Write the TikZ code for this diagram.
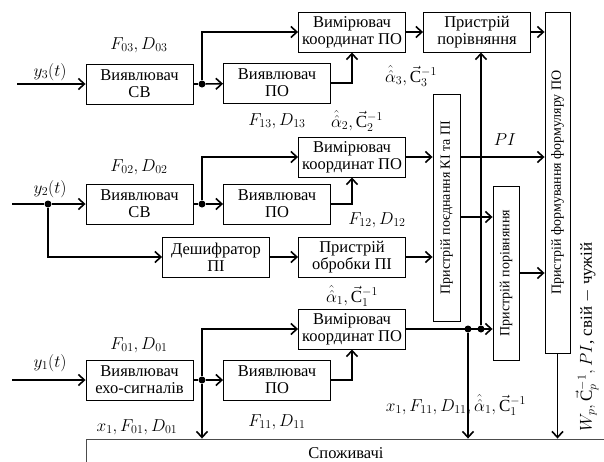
\documentclass[tikz,border=0pt]{standalone}
\usepackage{graphicx}
\usepackage{fontspec}
\setmainfont{Liberation Serif}
\usetikzlibrary{arrows.meta}
\begin{document}
\begin{tikzpicture}[x=1pt,y=-1pt,
  blk/.style={draw,line width=0.9pt,minimum width=107pt,minimum height=40pt,inner sep=0pt,align=center,font=\fontsize{16.5}{17}\selectfont},
  vblk/.style={draw,line width=0.9pt,inner sep=0pt,font=\fontsize{14}{15}\selectfont},
  lbl/.style={inner sep=0pt,font=\fontsize{17}{18}\selectfont},
  sig/.style={line width=1.6pt,-{Straight Barb[length=6pt,width=11pt]}},
  ln/.style={line width=1.6pt},
  dot/.style={circle,fill,inner sep=0pt,minimum size=7pt}]
\useasboundingbox (0,0) rectangle (604,461);
\node[blk] (sv3) at (139.5,84) {Виявлювач\\СВ};
\node[blk] (po3) at (277,83) {Виявлювач\\ПО};
\node[blk] (vym3) at (352,32) {Вимірювач\\координат ПО};
\node[blk] (por3) at (477,32) {Пристрій\\порівняння};
\node[blk] (sv2) at (139.5,204) {Виявлювач\\СВ};
\node[blk] (po2) at (277,204) {Виявлювач\\ПО};
\node[blk] (vym2) at (352,157) {Вимірювач\\координат ПО};
\node[blk] (desh) at (216,257) {Дешифратор\\ПІ};
\node[blk] (obr) at (352,257) {Пристрій\\обробки ПІ};
\node[blk] (sv1) at (139.5,380) {Виявлювач\\ехо-сигналів};
\node[blk] (po1) at (277,380) {Виявлювач\\ПО};
\node[blk] (vym1) at (352,329) {Вимірювач\\координат ПО};
\node[vblk,minimum width=27pt,minimum height=227pt] (pojed) at (446.5,207.5) {\rotatebox{90}{Пристрій поєднання КІ та ПІ}};
\node[vblk,minimum width=26pt,minimum height=174pt] (por2) at (506,273) {\rotatebox{90}{Пристрій порівняння}};
\node[vblk,minimum width=25pt,minimum height=341pt] (form) at (557.5,182.5) {\rotatebox{90}{Пристрій формування формуляру ПО}};
\node[vblk,draw=black!70,minimum width=520pt,minimum height=28pt,font=\fontsize{16.5}{17}\selectfont] (spo) at (346,453) {Споживачі};
\coordinate (in3) at (17,84);
\coordinate (in2) at (12,204);
\coordinate (in1) at (12,380);
\coordinate (pa) at (460,217);
\node[dot] (d3) at (202,84) {};
\node[dot] (d2) at (202,204) {};
\node[dot] (d2in) at (48,204) {};
\node[dot] (d1) at (202,380) {};
\node[dot] (j0) at (468,329) {};
\node[dot] (j1) at (481,329) {};
\draw[sig] (in3) -- (sv3);
\draw[ln] (sv3) -- (d3);
\draw[sig] (d3) -- (po3);
\draw[sig] (d3) |- (vym3);
\draw[sig] (po3) -| (vym3);
\draw[sig] (vym3) -- (por3);
\draw[sig] (por3) -- (por3 -| form.west);
\draw[ln] (in2) -- (d2in);
\draw[sig] (d2in) -- (sv2);
\draw[sig] (d2in) |- (desh);
\draw[ln] (sv2) -- (d2);
\draw[sig] (d2) -- (po2);
\draw[sig] (d2) |- (vym2);
\draw[sig] (po2) -| (vym2);
\draw[sig] (vym2) -- (vym2 -| pojed.west);
\draw[sig] (desh) -- (obr);
\draw[sig] (obr) -- (obr -| pojed.west);
\draw[sig] (in1) -- (sv1);
\draw[ln] (sv1) -- (d1);
\draw[sig] (d1) -- (po1);
\draw[sig] (d1) |- (vym1);
\draw[sig] (d1) -- (d1 |- spo.north);
\draw[sig] (po1) -| (vym1);
\draw[sig] (vym1) -- (vym1 -| por2.west);
\draw[sig] (j1) -- (j1 |- por3.south);
\draw[sig] (j0) -- (j0 |- spo.north);
\draw[sig] (pojed.east |- vym2) -- (form.west |- vym2);
\draw[sig] (pa) -- (pa -| por2.west);
\draw[sig] (por2) -- (por2 -| form.west);
\draw[sig] (form) -- (form |- spo.north);
\node[lbl] (ly3) at (50,72) {$y_3(t)$};
\node[lbl] (ly2) at (50,189) {$y_2(t)$};
\node[lbl] (ly1) at (50,363) {$y_1(t)$};
\node[lbl] (lf03) at (139,45) {$F_{03}, D_{03}$};
\node[lbl] (lf02) at (139,167) {$F_{02}, D_{02}$};
\node[lbl] (lf01) at (139,345) {$F_{01}, D_{01}$};
\node[lbl] (lf13) at (277,121) {$F_{13}, D_{13}$};
\node[lbl] (lf12) at (377,220) {$F_{12}, D_{12}$};
\node[lbl] (lf11) at (277,422) {$F_{11}, D_{11}$};
\node[lbl] (la3) at (411,76) {$\hat{\hat{\alpha}}_3, \vec{\mathrm{C}}_3^{-1}$};
\node[lbl] (la2) at (357,121) {$\hat{\hat{\alpha}}_2, \vec{\mathrm{C}}_2^{-1}$};
\node[lbl] (la1) at (352,296) {$\hat{\hat{\alpha}}_1, \vec{\mathrm{C}}_1^{-1}$};
\node[lbl] (lpi) at (505,140) {$PI$};
\node[lbl] (lx0) at (137,427) {$x_1, F_{01}, D_{01}$};
\node[lbl] (lx1) at (456,405) {$x_1, F_{11}, D_{11}, \hat{\hat{\alpha}}_1, \vec{\mathrm{C}}_1^{-1}$};
\node[lbl,rotate=90] (lout) at (587,337) {$W_p, \vec{\mathrm{C}}_p^{-1}, PI$, свій $-$ чужій};
\end{tikzpicture}
\end{document}
